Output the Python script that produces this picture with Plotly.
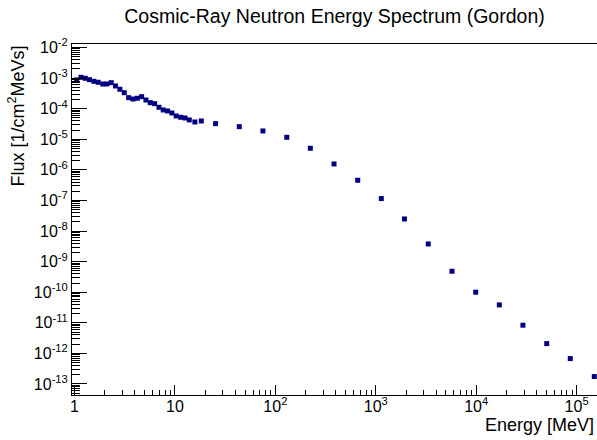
import plotly.graph_objects as go

# Data (energy in MeV, flux in 1/cm^2 MeV s)
energy = [1.05, 1.16, 1.28, 1.41, 1.56, 1.72, 1.91, 2.10, 2.32, 2.56,
          2.83, 3.13, 3.46, 3.82, 4.22, 4.66, 5.14, 5.68, 6.28, 6.93,
          7.64, 8.45, 9.33, 10.3, 11.4, 12.6, 13.9, 15.8, 18.3, 25.4,
          43.7, 75.2, 130, 223, 384, 661, 1135, 1930, 3330, 5740,
          9890, 17000, 29200, 50400, 86500, 150000]
flux = [8.67e-4, 1.06e-3, 9.84e-4, 8.87e-4, 7.85e-4, 7.29e-4, 6.41e-4, 6.41e-4, 7.08e-4, 5.52e-4,
        4.31e-4, 3.33e-4, 2.29e-4, 2.07e-4, 2.19e-4, 2.47e-4, 1.92e-4, 1.57e-4, 1.46e-4, 1.11e-4,
        9.08e-5, 8.41e-5, 7.23e-5, 5.77e-5, 5.24e-5, 4.97e-5, 4.28e-5, 3.67e-5, 3.96e-5, 3.24e-5,
        2.58e-5, 1.87e-5, 1.16e-5, 5.08e-6, 1.56e-6, 4.57e-7, 1.15e-7, 2.48e-8, 3.78e-9, 4.85e-10,
        1.0e-10, 3.85e-11, 8.36e-12, 2.09e-12, 6.76e-13, 1.75e-13]

x_exps = [0, 1, 2, 3, 4, 5]
x_ticktext = ["1", "10", "10<sup>2</sup>", "10<sup>3</sup>", "10<sup>4</sup>", "10<sup>5</sup>"]
y_exps = list(range(-2, -14, -1))
y_ticktext = ["10<sup>%d</sup>" % e for e in y_exps]

title = "Cosmic-Ray Neutron Energy Spectrum (Gordon)"
x_title = "Energy [MeV]"
y_title = "Flux [1/cm<sup>2</sup>MeVs]"

FONT = "Liberation Sans, Arial, sans-serif"

x_minor = [m * 10 ** e for e in range(-1, 6) for m in range(2, 10)]
y_minor = [m * 10.0 ** e for e in range(-14, -1) for m in range(2, 10)]

fig = go.Figure()
fig.add_trace(go.Scatter(
    x=energy, y=flux, mode="markers",
    marker=dict(symbol="square", size=5, color="#000080", line=dict(width=0)),
    showlegend=False,
))

fig.update_layout(
    width=597, height=440,
    margin=dict(l=72, r=0, t=44, b=45),
    paper_bgcolor="white", plot_bgcolor="white",
    font=dict(family=FONT, color="black", size=16),
    title=dict(text=title, x=0.5, xref="paper", y=1 - 16 / 440, yref="container",
               yanchor="middle", xanchor="center",
               font=dict(family=FONT, size=19.5, color="black")),
    xaxis=dict(
        type="log", range=[-0.025, 5.203],
        tickmode="array", tickvals=[10 ** e for e in x_exps], ticktext=x_ticktext,
        ticks="inside", ticklen=10, tickcolor="black", tickwidth=1,
        ticklabelstandoff=-3,
        showline=True, linecolor="black", linewidth=1, mirror=True,
        showgrid=False, zeroline=False,
        tickfont=dict(family=FONT, size=16, color="black"),
        minor=dict(tickmode="array", tickvals=x_minor, ticks="inside", ticklen=5,
                   tickcolor="black", tickwidth=1, showgrid=False),
    ),
    yaxis=dict(
        type="log", range=[-13.36, -1.886],
        tickmode="array", tickvals=[10.0 ** e for e in y_exps], ticktext=y_ticktext,
        ticks="inside", ticklen=15, tickcolor="black", tickwidth=1,
        showline=True, linecolor="black", linewidth=1, mirror=True,
        showgrid=False, zeroline=False,
        tickfont=dict(family=FONT, size=16, color="black"),
        minor=dict(tickmode="array", tickvals=y_minor, ticks="inside", ticklen=8,
                   tickcolor="black", tickwidth=1, showgrid=False),
    ),
    annotations=[
        dict(text=x_title, xref="paper", yref="paper", x=(596 - 72) / 525, y=(395 - 425) / 351,
             xanchor="right", yanchor="middle", showarrow=False,
             font=dict(family=FONT, size=18, color="black")),
        dict(text=y_title, xref="paper", yref="paper", x=(17 - 72) / 525, y=1.0,
             xanchor="center", yanchor="top", textangle=-90, showarrow=False,
             font=dict(family=FONT, size=18, color="black")),
    ],
)

fig.write_html("out.html")
